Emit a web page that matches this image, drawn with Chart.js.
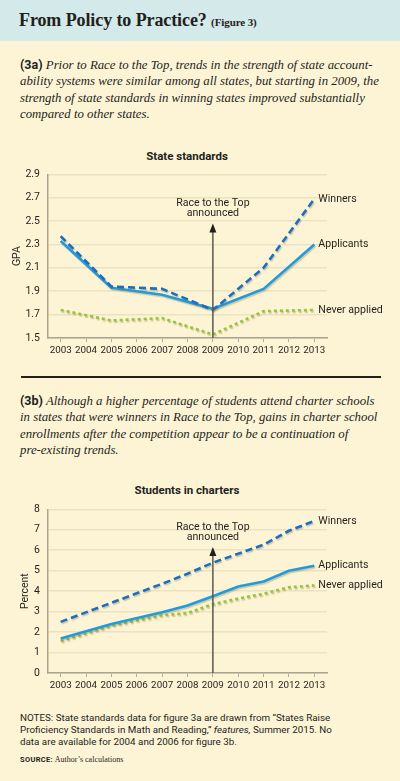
<!DOCTYPE html>
<html>
<head>
<meta charset="utf-8">
<script src="https://cdn.jsdelivr.net/npm/chart.js@4.4.0/dist/chart.umd.min.js"></script>
<style>
  body { margin: 0; }
  #page { position: relative; width: 400px; height: 781px; background: #fdf4d5; overflow: hidden; font-family: Roboto, sans-serif; color: #231f1c; }
  #head { position: absolute; left: 0; top: 0; width: 400px; height: 41px; background: #d4e9e9; }
  #head .t { position: absolute; left: 19px; top: 10px; font: bold 18px "Liberation Serif", serif; letter-spacing: -0.1px; white-space: nowrap; }
  #head .t small { font-size: 11px; }
  .para { position: absolute; left: 20px; font: italic 12.8px/16.3px "Liberation Serif", serif; white-space: nowrap; }
  .para b { font: bold 12.5px Roboto, sans-serif; font-style: normal; }
  .ctitle { position: absolute; left: 87px; width: 200px; text-align: center; font: bold 11.5px Roboto, sans-serif; }
  .rule { position: absolute; left: 21px; width: 360px; top: 376px; height: 1.5px; background: #231f1c; }
  .notes { position: absolute; left: 20px; top: 712px; font: 9.8px/12px Roboto, sans-serif; white-space: nowrap; }
  .source { position: absolute; left: 20px; top: 755px; font-size: 7.5px; white-space: nowrap; }
  .source b { font-family: Roboto, sans-serif; letter-spacing: 0.3px; }
  .source span { font-family: "Liberation Serif", serif; font-size: 8px; }
  canvas { position: absolute; left: 0; }
</style>
</head>
<body>
<div id="page">
  <div id="head"><div class="t">From Policy to Practice? <small>(Figure 3)</small></div></div>
  <div class="para" style="top:57px"><b>(3a)</b> Prior to Race to the Top, trends in the strength of state account-<br>ability systems were similar among all states, but starting in 2009, the<br>strength of state standards in winning states improved substantially<br>compared to other states.</div>
  <div class="ctitle" style="top:149px">State standards</div>
  <div style="position:absolute;top:160px;left:0;width:400px;height:200px"><canvas id="chartStandards"></canvas></div>
  <div class="rule"></div>
  <div class="para" style="top:393px"><b>(3b)</b> Although a higher percentage of students attend charter schools<br>in states that were winners in Race to the Top, gains in charter school<br>enrollments after the competition appear to be a continuation of<br>pre-existing trends.</div>
  <div class="ctitle" style="top:483px">Students in charters</div>
  <div style="position:absolute;top:495px;left:0;width:400px;height:200px"><canvas id="chartCharters"></canvas></div>
  <div class="notes">NOTES: State standards data for figure 3a are drawn from “States Raise<br>Proficiency Standards in Math and Reading,” <i>features,</i> Summer 2015. No<br>data are available for 2004 and 2006 for figure 3b.</div>
  <div class="source"><b>SOURCE:</b> <span>Author’s calculations</span></div>
</div>
<script>
let years = ["2003", "2004", "2005", "2006", "2007", "2008", "2009", "2010", "2011", "2012", "2013"];
let seriesNames = ["Winners", "Applicants", "Never applied"];

// figure 3a, GPA (odd years only)
let gpaWinners = [2.37, null, 1.94, null, 1.92, null, 1.74, null, 2.10, null, 2.69];
let gpaApplicants = [2.33, null, 1.93, null, 1.87, null, 1.75, null, 1.92, null, 2.30];
let gpaNever = [1.74, null, 1.65, null, 1.67, null, 1.53, null, 1.73, null, 1.74];
let gpaTicks = [1.5, 1.7, 1.9, 2.1, 2.3, 2.5, 2.7, 2.9];

// figure 3b, percent of students in charters
let charterWinners = [2.50, null, 3.43, null, 4.36, 4.85, 5.39, 5.83, 6.27, 6.95, 7.43];
let charterApplicants = [1.68, null, 2.40, null, 2.97, 3.30, 3.75, 4.23, 4.47, 5.00, 5.24];
let charterNever = [1.56, null, 2.32, null, 2.82, 2.93, 3.36, 3.64, 3.87, 4.19, 4.28];
let charterTicks = [0, 1, 2, 3, 4, 5, 6, 7, 8];

let announcedYear = "2009";

Chart.defaults.font.family = "Roboto, sans-serif";
Chart.defaults.color = "#231f1c";

let lineColors = ["#1a6fc4", "#1f9be0", "#97c43a"];
let lineDashes = [[7, 4], [], [3, 3]];

function makeDatasets(values) {
    return values.map((data, i) => ({
        label: seriesNames[i],
        data: data,
        borderColor: lineColors[i],
        borderDash: lineDashes[i],
        borderWidth: 2.6,
        pointRadius: 0,
        spanGaps: true,
        tension: 0,
        fill: false
    }));
}

// end labels, announcement arrow and soft shadow under the lines
function overlayPlugin(arrowTop) {
    return {
        id: "overlay",
        beforeDatasetsDraw(chart) {
            let ctx = chart.ctx;
            ctx.save();
            ctx.shadowColor = "rgba(140, 115, 60, 0.35)";
            ctx.shadowOffsetX = 1;
            ctx.shadowOffsetY = 1.5;
            ctx.shadowBlur = 1;
        },
        afterDatasetsDraw(chart) {
            let ctx = chart.ctx;
            ctx.restore();
            let x = chart.scales.x.getPixelForValue(years.indexOf(announcedYear));
            let tip = chart.scales.y.getPixelForValue(arrowTop);
            let bottom = chart.chartArea.bottom;

            ctx.save();
            ctx.strokeStyle = "#5b5750";
            ctx.fillStyle = "#231f1c";
            ctx.lineWidth = 1.5;
            ctx.beginPath();
            ctx.moveTo(x, bottom);
            ctx.lineTo(x, tip + 6);
            ctx.stroke();
            ctx.beginPath();
            ctx.moveTo(x, tip);
            ctx.lineTo(x - 3.5, tip + 9);
            ctx.lineTo(x + 3.5, tip + 9);
            ctx.closePath();
            ctx.fill();

            ctx.font = "10.6px Roboto, sans-serif";
            ctx.textAlign = "center";
            ctx.textBaseline = "middle";
            ctx.fillText("Race to the Top", x, tip - 20);
            ctx.fillText("announced", x, tip - 10);

            ctx.textAlign = "left";
            ctx.font = "10.6px Roboto, sans-serif";
            chart.data.datasets.forEach((ds, i) => {
                let pts = chart.getDatasetMeta(i).data;
                let last = pts[pts.length - 1];
                ctx.fillText(ds.label, last.x + 4, last.y);
            });
            ctx.restore();
        }
    };
}

function makeOptions(ticks, title, leftPad) {
    return {
        responsive: true,
        maintainAspectRatio: false,
        animation: false,
        layout: { padding: { left: leftPad, right: 73, top: 13, bottom: 0 } },
        plugins: { legend: { display: false }, tooltip: { enabled: false } },
        scales: {
            x: {
                offset: true,
                grid: { drawOnChartArea: false, drawTicks: true, tickLength: 4, color: "#b3ad9b", lineWidth: 1 },
                border: { color: "#a9a391", width: 1.5 },
                ticks: { font: { size: 9.8 }, padding: 3, maxRotation: 0, autoSkip: false },
                afterFit: function (scale) { scale.height = 22; }
            },
            y: {
                min: ticks[0],
                max: ticks[ticks.length - 1],
                afterBuildTicks: function (scale) { scale.ticks = ticks.map(v => ({ value: v })); },
                grid: { drawTicks: false, color: "#ebe2c2", lineWidth: 1.5 },
                border: { color: "#a9a391", width: 1.5 },
                ticks: { font: { size: 10.5 }, padding: 8, callback: v => v },
                title: { display: true, text: title, font: { size: 10.5 }, padding: 0 },
                afterFit: function (scale) { scale.width = 48 - leftPad; }
            }
        }
    };
}

new Chart("chartStandards", {
    type: "line",
    data: { labels: years, datasets: makeDatasets([gpaWinners, gpaApplicants, gpaNever]) },
    options: makeOptions(gpaTicks, "GPA", 11),
    plugins: [overlayPlugin(2.48)]
});

new Chart("chartCharters", {
    type: "line",
    data: { labels: years, datasets: makeDatasets([charterWinners, charterApplicants, charterNever]) },
    options: makeOptions(charterTicks, "Percent", 19),
    plugins: [overlayPlugin(6.16)]
});
</script>
</body>
</html>
